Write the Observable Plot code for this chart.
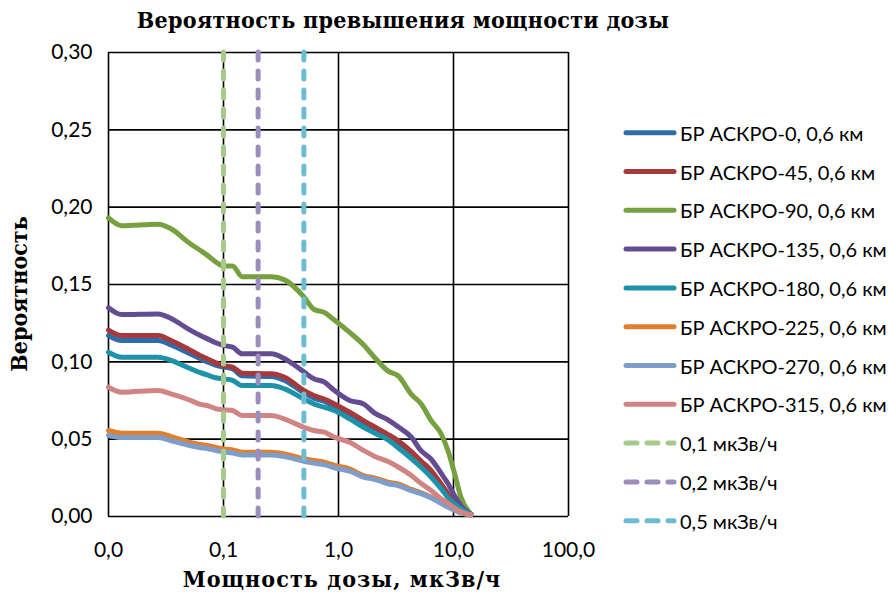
<!DOCTYPE html>
<html><head><meta charset="utf-8">
<script src="https://cdn.jsdelivr.net/npm/d3@7"></script>
<script src="https://cdn.jsdelivr.net/npm/@observablehq/plot@0.6"></script>
<style>
body{margin:0;background:#fff;}
#wrap{position:relative;width:888px;height:595px;overflow:hidden;background:#fff;}
#wrap svg{position:absolute;left:0;top:0;}
</style></head><body><div id="wrap"></div>
<script>
const chartTitle = "Вероятность превышения мощности дозы";
const xLabel = "Мощность дозы, мкЗв/ч";
const yLabel = "Вероятность";

const seriesNames = ["БР АСКРО-0, 0,6 км","БР АСКРО-45, 0,6 км","БР АСКРО-90, 0,6 км","БР АСКРО-135, 0,6 км","БР АСКРО-180, 0,6 км","БР АСКРО-225, 0,6 км","БР АСКРО-270, 0,6 км","БР АСКРО-315, 0,6 км"];
const seriesColors = ["#2F6DA8","#A6393B","#77A03F","#634C91","#1D92A8","#E0802F","#7F9DCB","#D08584"];

const doseX = [0.010,0.013,0.027,0.035,0.05,0.063,0.072,0.088,0.10,0.12,0.145,0.26,0.34,0.50,0.61,0.75,0.92,1.25,1.65,2.05,2.7,3.3,4.3,5.2,6.4,7.8,9.0,10.2,11.6,14.2];
const p0   = [0.117,0.1138,0.1138,0.111,0.1055,0.102,0.100,0.0975,0.0966,0.0955,0.091,0.0905,0.088,0.080,0.0765,0.0745,0.071,0.066,0.0607,0.057,0.052,0.048,0.041,0.035,0.029,0.0205,0.014,0.008,0.004,0.0015];
const p45  = [0.1205,0.117,0.117,0.1138,0.108,0.104,0.102,0.099,0.0976,0.0966,0.0927,0.0923,0.090,0.0815,0.0782,0.076,0.0728,0.0674,0.062,0.058,0.053,0.049,0.042,0.036,0.0297,0.021,0.0145,0.008,0.004,0.0015];
const p90  = [0.193,0.188,0.189,0.186,0.177,0.172,0.169,0.164,0.162,0.162,0.155,0.155,0.153,0.142,0.134,0.132,0.127,0.119,0.111,0.103,0.094,0.091,0.079,0.073,0.062,0.0535,0.042,0.028,0.0125,0.0015];
const p135 = [0.135,0.1306,0.131,0.128,0.121,0.117,0.115,0.112,0.1106,0.1095,0.1052,0.1052,0.102,0.0935,0.089,0.087,0.0815,0.075,0.0728,0.067,0.0625,0.058,0.0513,0.0427,0.037,0.028,0.021,0.0135,0.007,0.0015];
const p180 = [0.1062,0.103,0.103,0.101,0.096,0.093,0.0915,0.0895,0.089,0.088,0.0847,0.0847,0.0825,0.076,0.0728,0.0707,0.0685,0.0631,0.0577,0.054,0.0495,0.0445,0.0375,0.032,0.0254,0.018,0.012,0.008,0.005,0.0015];
const p225 = [0.0556,0.0539,0.0539,0.0517,0.0482,0.0465,0.0459,0.0445,0.0437,0.0431,0.0416,0.0416,0.0405,0.0373,0.0362,0.0351,0.033,0.0308,0.0265,0.025,0.0222,0.021,0.0175,0.0155,0.0125,0.009,0.0065,0.0042,0.0025,0.001];
const p270 = [0.0525,0.051,0.051,0.049,0.046,0.0445,0.044,0.0425,0.0418,0.041,0.0398,0.0398,0.0387,0.0357,0.0345,0.0335,0.0315,0.0293,0.0255,0.024,0.0212,0.020,0.0167,0.0148,0.012,0.0085,0.006,0.004,0.0023,0.001];
const p315 = [0.0836,0.0804,0.0815,0.0793,0.0755,0.0725,0.0718,0.0695,0.069,0.0685,0.0653,0.0653,0.063,0.0577,0.0556,0.0545,0.0513,0.048,0.0427,0.039,0.0355,0.032,0.0265,0.0215,0.0168,0.0115,0.0085,0.0055,0.003,0.001];
const seriesValues = [p0,p45,p90,p135,p180,p225,p270,p315];

const thresholdValues = [0.1, 0.2, 0.5];
const thresholdNames = ["0,1 мкЗв/ч","0,2 мкЗв/ч","0,5 мкЗв/ч"];
const thresholdColors = ["#A6CA8C","#9B8EBF","#6CBDD0"];

const xTicks = [0.01,0.1,1,10,100];
const xTickLabels = ["0,0","0,1","1,0","10,0","100,0"];
const yTicks = [0,0.05,0.10,0.15,0.20,0.25,0.30];
const yTickLabels = ["0,00","0,05","0,10","0,15","0,20","0,25","0,30"];

const rows = seriesNames.flatMap((name,i)=>doseX.map((x,j)=>({name, x, p: seriesValues[i][j]})));
const thresholds = thresholdValues.map((v,i)=>({name: thresholdNames[i], v}));

const tickFont = "Lato, 'Noto Sans', sans-serif";
const serifFont = "'DejaVu Serif', serif";

const chart = Plot.plot({
  width: 888, height: 595,
  marginLeft: 108, marginRight: 320, marginTop: 52, marginBottom: 79,
  style: {fontFamily: tickFont, color: "#000", background: "transparent"},
  x: {type: "log", domain: [0.01, 100], label: null},
  y: {domain: [0, 0.3], label: null},
  color: {domain: [...seriesNames, ...thresholdNames], range: [...seriesColors, ...thresholdColors]},
  marks: [
    Plot.gridX(xTicks, {stroke: "#000", strokeOpacity: 1, strokeWidth: 1.6}),
    Plot.gridY(yTicks, {stroke: "#000", strokeOpacity: 1, strokeWidth: 1.6}),
    Plot.line(rows, {x: "x", y: "p", z: "name", stroke: "name", strokeWidth: 5, strokeLinejoin: "round", strokeLinecap: "round", curve: "monotone-x"}),
    Plot.ruleX(thresholds, {x: "v", y1: 0, y2: 0.3, stroke: "name", strokeWidth: 5, strokeDasharray: "8,11", strokeLinecap: "round"}),
    Plot.axisX(xTicks, {tickSize: 0, tickPadding: 26, fontSize: 21, tickFormat: d => xTickLabels[xTicks.indexOf(d)], label: null}),
    Plot.axisY(yTicks, {tickSize: 0, tickPadding: 16, fontSize: 21, tickFormat: d => yTickLabels[yTicks.indexOf(d)], label: null})
  ]
});
const wrap = document.getElementById("wrap");
wrap.appendChild(chart);

const over = d3.select(wrap).append("svg").attr("width", 888).attr("height", 595);
function serifText(sel, size, spacing) {
  return sel.attr("text-anchor", "middle").attr("dominant-baseline", "central")
    .style("font-family", serifFont).style("font-weight", "bold").style("font-stretch", "condensed")
    .style("font-size", size + "px").style("letter-spacing", spacing + "px");
}
serifText(over.append("text").attr("x", 403).attr("y", 19), 23, 0.3).text(chartTitle);
serifText(over.append("text").attr("x", 342).attr("y", 578), 23, 1.1).text(xLabel);
serifText(over.append("text").attr("transform", "translate(18,294) rotate(-90)"), 23, 0).text(yLabel);

const legendItems = [
  ...seriesNames.map((n,i)=>({n, c: seriesColors[i], dash: null})),
  ...thresholdNames.map((n,i)=>({n, c: thresholdColors[i], dash: "11,10"}))
];
const lg = over.append("g");
legendItems.forEach((d,i)=>{
  const y = 132.7 + i*38.8;
  lg.append("line").attr("x1", 626).attr("x2", 674).attr("y1", y).attr("y2", y)
    .attr("stroke", d.c).attr("stroke-width", 5).attr("stroke-linecap", "round")
    .attr("stroke-dasharray", d.dash);
  lg.append("text").attr("x", 680).attr("y", y).attr("dominant-baseline", "central")
    .style("font-family", tickFont).style("font-size", "20px").text(d.n);
});
</script></body></html>
